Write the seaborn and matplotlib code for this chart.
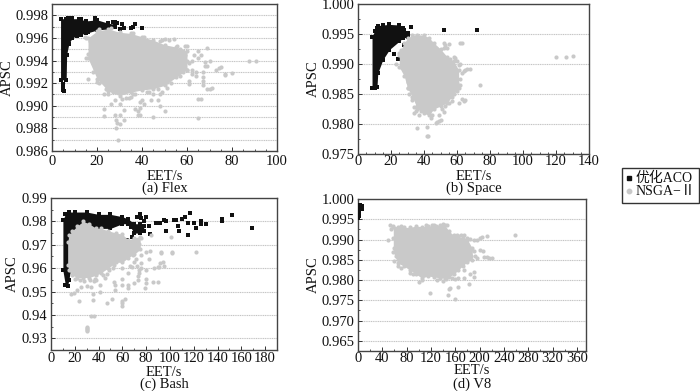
import matplotlib
matplotlib.use('Agg')
import matplotlib.pyplot as plt
from matplotlib.ticker import MultipleLocator, FormatStrFormatter
import pandas as pd
import seaborn as sns

sns.set_theme(style='white')
plt.rcParams['font.family'] = ['Liberation Serif', 'Noto Sans CJK SC']
plt.rcParams['font.size'] = 10.5

# dense parts of the clouds: x, lower edge, upper edge
flex_aco_x = [3.8, 6.3, 6.5, 7.5, 9, 12, 15, 20, 25, 28]
flex_aco_lo = [.9923, .9923, .9945, .9955, .9960, .9963, .9964, .9967, .9968, .9970]
flex_aco_hi = [.9977, .9977, .9977, .9977, .9977, .9977, .9975, .9976, .9973, .9972]
flex_nsga_x = [16, 20, 25, 30, 35, 40, 45, 50, 55, 60]
flex_nsga_lo = [.9942, .9924, .9913, .9909, .9912, .9914, .9915, .9918, .9925, .9932]
flex_nsga_hi = [.9960, .9966, .9968, .9965, .9964, .9961, .9958, .9954, .9952, .9948]

space_aco_x = [8.5, 10, 11.5, 12, 15, 19, 25, 27, 30]
space_aco_lo = [.9860, .9860, .9862, .9885, .9907, .9924, .9938, .9943, .9945]
space_aco_hi = [.9945, .9955, .9960, .9964, .9965, .9966, .9965, .9960, .9952]
space_nsga_x = [25, 28, 30, 33, 36, 40, 43, 46, 50, 54, 58, 61]
space_nsga_lo = [.9895, .9880, .9860, .9845, .9825, .9818, .9815, .9825, .9830, .9835, .9850, .9860]
space_nsga_hi = [.9918, .9935, .9943, .9948, .9949, .9948, .9944, .9935, .9925, .9912, .9905, .9890]

bash_aco_x = [10, 12, 14, 15, 20, 30, 40, 50, 60, 65, 70, 75, 78]
bash_aco_lo = [.959, .953, .9525, .955, .970, .978, .977, .977, .979, .979, .975, .975, .976]
bash_aco_hi = [.9805, .983, .983, .984, .984, .984, .983, .983, .982, .981, .979, .979, .978]
bash_nsga_x = [14, 15, 18, 22, 27, 32, 38, 42, 48, 55, 60, 65, 70, 75]
bash_nsga_lo = [.9615, .959, .957, .956, .956, .956, .957, .958, .960, .9625, .9625, .9645, .966, .968]
bash_nsga_hi = [.971, .974, .976, .978, .980, .979, .977, .977, .976, .975, .9745, .972, .973, .9735]

v8_aco_x = [1, 2, 3, 6]
v8_aco_lo = [.9957, .9965, .9975, .9975]
v8_aco_hi = [.9985, .9985, .9985, .9982]
v8_nsga_x = [58, 65, 75, 85, 95, 105, 115, 125, 135, 143, 150, 158, 165, 172, 180, 188]
v8_nsga_lo = [.9870, .9842, .9835, .9825, .9815, .9805, .9810, .9808, .9805, .9805, .9808,
              .9815, .9825, .9835, .9845, .9850]
v8_nsga_hi = [.9932, .9932, .9930, .9930, .9933, .9932, .9933, .9935, .9936, .9935, .9920,
              .9910, .9908, .9905, .9900, .9878]

# single points outside the dense parts
flex_aco_pts = [(40, .9969), (37, .9972), (36, .9970), (35, .9969), (31, .9972), (32, .9969),
                (30, .9968), (29, .9973), (28, .9974), (27, .9974), (25, .9972), (19, .9977),
                (5, .9914), (4.8, .9914), (5, .9917), (5.2, .9913), (4.7, .9919), (13, .9963),
                (11, .9962), (16, .9965), (9, .9978), (7, .9978), (13, .9977), (19, .9978)]
flex_nsga_pts = [(87.5, .9940), (90.5, .9940), (80, .9929), (77, .9928), (77, .9927), (75, .9934),
                 (74, .9933), (73, .9932), (71, .9916), (70, .9915), (69, .9915), (69, .9935),
                 (70, .9940), (69, .9951), (68, .9939), (68, .9935), (67, .9930), (67, .9925),
                 (67, .9922), (67, .9918), (66, .9906), (65, .9906), (66, .9945), (65, .9948),
                 (65, .9942), (64, .9930), (64, .9926), (65, .9889), (62, .9940), (61, .9938),
                 (60, .9940), (62, .9928), (61, .9922), (61, .9919), (60, .9953), (59, .9953),
                 (57, .9950), (56, .9948), (56, .9943), (60, .9932), (59, .9945), (52, .9958),
                 (49, .9958), (48, .9957), (54, .9949), (23, .9897), (23, .9891), (28, .9892),
                 (30, .9892), (28.5, .9887), (29, .9885), (30, .9884), (32, .9887), (28.5, .9880),
                 (29.5, .9870), (32, .9896), (37, .9897), (38, .9895), (39, .9898), (38, .9892),
                 (39, .9892), (45, .9890), (50, .9895), (48, .9900), (47, .9905), (48, .9910),
                 (49, .9912), (44, .9905), (45, .9910), (43, .9912), (39, .9903), (40, .9905),
                 (41, .9902), (35, .9908), (36, .9910), (33, .9907), (30, .9902), (28, .9905),
                 (27, .9912), (24, .9915), (23, .9910), (26, .9902), (20, .9921), (16, .9924),
                 (15, .9942), (16, .9946), (15, .9960), (17, .9957), (21, .9961), (19, .9933),
                 (52, .9942), (55, .9938), (53, .9920), (51, .9916), (47, .9915), (46, .9918),
                 (14.8, .9961), (21, .9968), (26, .9969), (32, .9962), (36, .9964), (41, .9961),
                 (43, .9956), (50, .9959), (54, .9959), (55.5, .9953), (18, .9930), (21, .9920),
                 (34, .9907), (37, .9910), (42, .9912), (51, .9921), (58, .9930), (57, .9926),
                 (18, .9938), (25, .9910), (31, .9906), (63, .9945), (58, .9948), (62, .9932)]

space_aco_pts = [(72, .9957), (52, .9957), (32, .9962), (28, .9957), (26, .9960), (25, .9963),
                 (29, .9948), (28, .9951), (22, .9917), (24, .9909), (26, .9915), (28, .9932),
                 (31, .9925), (33, .9922)]
space_nsga_pts = [(120, .9912), (126, .9912), (130, .9913), (74, .9865), (68, .9892), (66, .9892),
                  (65, .9890), (64, .9888), (63, .9885), (62, .9900), (61, .9898), (63, .9842),
                  (65, .9840), (64, .9838), (61, .9835), (62, .9865), (62, .9935), (63, .9935),
                  (55, .9934), (53, .9932), (52, .9926), (54, .9926), (52, .9935), (58, .9912),
                  (59, .9910), (60, .9905), (56, .9908), (36, .9793), (42, .9780), (42.5, .9780),
                  (42, .9795), (49, .9805), (50, .9807), (47, .9802), (48, .9803), (44, .9810),
                  (45, .9815), (43, .9818), (42, .9820), (38, .9822), (35, .9822), (34, .9818),
                  (34, .9828), (33, .9840), (31, .9850), (30, .9860), (30, .9870), (23, .9900),
                  (26, .9895), (25, .9915), (26, .9923), (33, .9938), (53, .9830), (51, .9825),
                  (55, .9835), (57, .9838), (53, .9858), (60, .9868), (62, .9875), (60, .9855),
                  (57, .9845), (49, .9815), (36, .9830), (37, .9815), (52, .9820)]

bash_aco_pts = [(169, .9772), (152, .9828), (144, .9812), (144, .9800), (130, .9790), (126, .9800),
                (126, .9790), (122, .9770), (120, .9795), (115, .9792), (117, .9835), (113, .9820),
                (115, .9740), (110, .9810), (107, .9780), (108, .9760), (105, .9805), (103, .9805),
                (97, .9760), (97, .9800), (92, .9795), (95, .9805), (90, .9795), (88, .9795),
                (83, .9745), (82, .9780), (80, .9820), (78, .9800), (75, .9830), (72, .9820),
                (76, .9815), (68, .9735), (65, .9790), (67, .9775), (64, .9720)]
bash_nsga_pts = [(30, .9345), (30.5, .934), (30, .9335), (30.5, .933), (30, .935), (34, .9395),
                 (36, .9395), (23.3, .9461), (35.6, .9464), (47, .945), (51, .9467), (60, .9450),
                 (60, .944), (62, .9468), (60, .946), (35, .9488), (41, .950), (34, .952),
                 (17, .9488), (19.6, .9495), (22, .9507), (25, .952), (30, .9525), (36, .9545),
                 (41, .953), (53, .954), (54, .953), (54, .9507), (60, .953), (60, .9555),
                 (64.5, .9515), (64.5, .953), (69.5, .9535), (73, .955), (73, .9565), (74, .958),
                 (80, .959), (80, .9555), (80, .9537), (79, .9515), (86, .9542), (90, .9542),
                 (87, .96), (91, .9606), (94, .9627), (92.5, .9663), (92.5, .967), (102, .9663),
                 (102, .9667), (122, .967), (101, .9733), (84, .9743), (76, .9727), (74, .9705),
                 (76, .9655), (80, .9667), (83, .9673), (69, .9655), (71.5, .964), (66, .961),
                 (68, .9603), (76, .962), (76, .960), (74, .959), (64.5, .9578), (60, .96),
                 (53, .9613), (49, .959), (43.5, .957), (45, .9556), (38, .955), (92, .9620),
                 (95, .9610), (90, .9605), (72, .9610), (70, .9625), (82, .9640), (24, .9550),
                 (28, .9545), (20, .9555), (33, .9548), (37, .9555), (47, .9575), (52, .9600)]

v8_aco_pts = [(0.8, .9952), (1, .9960), (2.5, .9982), (4, .9978), (5, .9980), (6, .9976)]
v8_nsga_pts = [(258, .9911), (50, .9899), (220, .9855), (215, .9855), (212, .9856), (208, .9857),
               (200, .9874), (205, .9872), (212, .9908), (204, .9907), (200, .9904), (195, .9900),
               (190, .9900), (185, .9902), (180, .9905), (175, .9910), (170, .9912), (163, .9910),
               (190, .9820), (190, .9808), (185, .9815), (182, .9790), (175, .9804), (165, .9805),
               (160, .9803), (165, .9783), (150, .9778), (151, .9780), (148, .9762), (160, .9754),
               (118, .9769), (195, .9855), (190, .9872), (185, .9873), (175, .9825), (60, .9848),
               (65, .9835), (70, .9830), (85, .9818), (90, .9816), (100, .9796), (105, .9800),
               (130, .9800), (140, .9798), (145, .9802), (155, .9806), (55, .9925), (53, .9935),
               (58, .9934), (70, .9934), (112, .9936), (122, .9937), (128, .9934), (140, .9938),
               (146, .9935), (58, .9905), (62, .9860), (60, .9880), (192, .9860), (186, .9860)]

FIG_W, FIG_H = 700, 391
BLACK = '#111111'
GRAY = '#c9c9c9'


def px_axes(left, top, right, bottom):
    return fig.add_axes([left / FIG_W, 1 - bottom / FIG_H, (right - left) / FIG_W, (bottom - top) / FIG_H])


def draw_cloud(ax, x, lo, hi, pts, color, marker, s):
    pts = pd.DataFrame(pts, columns=['EET', 'APSC'])
    ax.fill_between(x, lo, hi, color=color, lw=0, zorder=3)
    edge = pd.DataFrame({'EET': x + x, 'APSC': lo + hi})
    for d in (edge, pts):
        sns.scatterplot(data=d, x='EET', y='APSC', ax=ax, color=color, marker=marker, s=s,
                        linewidth=0, zorder=3, legend=False)


fig = plt.figure(figsize=(7, 3.91), dpi=100)

panels = [
    ((52, 4, 277, 151), (0, 100), 20, 5, (.986, .999), .002, .001, '%.3f', '(a) Flex', 3, 7, 176, 188,
     (flex_aco_x, flex_aco_lo, flex_aco_hi, flex_aco_pts),
     (flex_nsga_x, flex_nsga_lo, flex_nsga_hi, flex_nsga_pts)),
    ((358, 4, 589, 154), (0, 140), 20, 5, (.975, 1.0), .005, .005, '%.3f', '(b) Space', 1, 313, 176, 188,
     (space_aco_x, space_aco_lo, space_aco_hi, space_aco_pts),
     (space_nsga_x, space_nsga_lo, space_nsga_hi, space_nsga_pts)),
    ((51, 198, 277, 350), (0, 190), 20, 10, (.925, .99), .01, .01, '%.2f', '(c) Bash', 1.5, 12, 372, 384,
     (bash_aco_x, bash_aco_lo, bash_aco_hi, bash_aco_pts),
     (bash_nsga_x, bash_nsga_lo, bash_nsga_hi, bash_nsga_pts)),
    ((358, 199, 586, 351), (0, 375), 40, 20, (.9625, 1.0), .005, .005, '%.3f', '(d) V8', 0.5, 313, 371, 384,
     (v8_aco_x, v8_aco_lo, v8_aco_hi, v8_aco_pts),
     (v8_nsga_x, v8_nsga_lo, v8_nsga_hi, v8_nsga_pts)),
]

for box, xlim, xmaj, xmin, ylim, ymaj, ygrid, yfmt, caption, xpad, ylab_x, xlab_y, cap_y, aco, nsga in panels:
    ax = px_axes(*box)
    draw_cloud(ax, *aco, BLACK, 's', 7)
    draw_cloud(ax, *nsga, GRAY, 'o', 9)
    ax.set_xlim(xlim)
    ax.set_ylim(ylim)
    ax.xaxis.set_major_locator(MultipleLocator(xmaj))
    ax.xaxis.set_minor_locator(MultipleLocator(xmin))
    ax.yaxis.set_major_locator(MultipleLocator(ymaj))
    ax.yaxis.set_minor_locator(MultipleLocator(ymaj / 2))
    ax.yaxis.set_major_formatter(FormatStrFormatter(yfmt))
    ax.tick_params(which='major', direction='in', length=3, width=0.7, color='#333333',
                   labelsize=10.5, left=True, bottom=True, labelcolor='#111111')
    ax.tick_params(which='minor', direction='in', length=1.5, width=0.6, color='#333333',
                   left=True, bottom=True)
    ax.xaxis.set_tick_params(pad=xpad)
    ax.yaxis.set_tick_params(pad=2.5)
    # grid sits on every 0.001 in Flex but only on major ticks elsewhere
    ax.grid(False)
    ax.grid(True, axis='y', which='major', color='#c4c4c4', lw=0.8, ls=(0, (1, 0.6)), zorder=1)
    if ygrid < ymaj:
        ax.grid(True, axis='y', which='minor', color='#c4c4c4', lw=0.8, ls=(0, (1, 0.6)), zorder=1)
    ax.set_axisbelow(True)
    ax.set_xlabel('')
    ax.set_ylabel('')
    mid_x = (box[0] + box[2]) / 2 / FIG_W
    fig.text(mid_x, 1 - xlab_y / FIG_H, 'EET/s', ha='center', va='center', fontsize=10.5, color='#111111')
    fig.text(mid_x, 1 - cap_y / FIG_H, caption, ha='center', va='center', fontsize=10.5, color='#111111')
    fig.text(ylab_x / FIG_W, 1 - (box[1] + box[3]) / 2 / FIG_H, 'APSC', rotation=90, ha='center', va='center',
             fontsize=10.5, color='#111111')
    for sp in ax.spines.values():
        sp.set_color('#444444')
        sp.set_linewidth(1.0)

handles = [plt.Line2D([], [], ls='', marker='s', ms=2.8, color=BLACK, label='优化ACO'),
           plt.Line2D([], [], ls='', marker='o', ms=3.2, color=GRAY, label='NSGA−Ⅱ')]
leg = fig.legend(handles=handles, loc='upper left', bbox_to_anchor=(622 / FIG_W, 1 - 168 / FIG_H),
                 borderaxespad=0, fancybox=False, framealpha=1, edgecolor='#333333', fontsize=10,
                 handlelength=0.4, handletextpad=0.25, borderpad=0.3, labelspacing=0.0, labelcolor='#111111')
leg.get_frame().set_linewidth(1.0)

fig.savefig('out.png', dpi=100)
